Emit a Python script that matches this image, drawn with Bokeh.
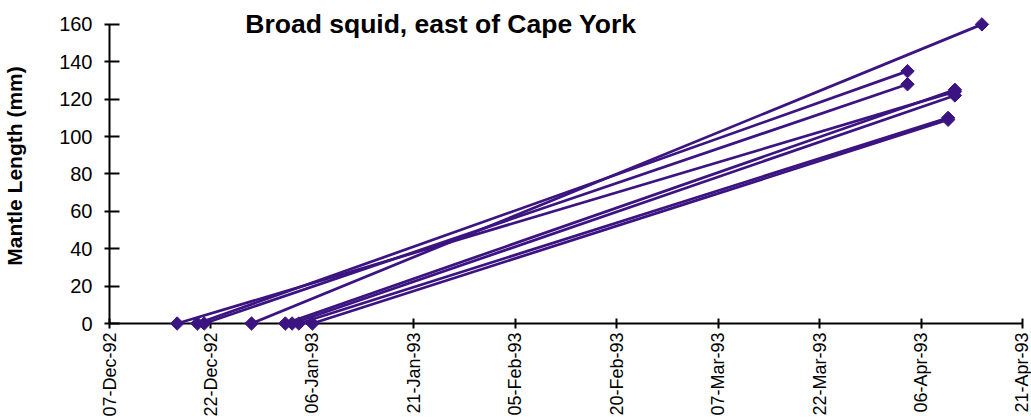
import math
import pandas as pd
from bokeh.plotting import figure
from bokeh.models import (ColumnDataSource, FixedTicker, Label, Range1d,
                          DatetimeTickFormatter)
from bokeh.embed import file_html
from bokeh.resources import INLINE

# Hatch date (mantle length 0) and capture date / mantle length for each squid
hatch_dates = ["1992-12-17", "1992-12-20", "1992-12-21", "1992-12-28",
               "1993-01-02", "1993-01-03", "1993-01-04", "1993-01-06"]
hatch_length = [0, 0, 0, 0, 0, 0, 0, 0]
capture_dates = ["1993-04-11", "1993-04-04", "1993-04-04", "1993-04-15",
                 "1993-04-11", "1993-04-11", "1993-04-10", "1993-04-10"]
mantle_length = [124, 135, 128, 160, 125, 122, 110, 109]

tick_dates = ["1992-12-07", "1992-12-22", "1993-01-06", "1993-01-21",
              "1993-02-05", "1993-02-20", "1993-03-07", "1993-03-22",
              "1993-04-06", "1993-04-21"]
tick_labels = ["07-Dec-92", "22-Dec-92", "06-Jan-93", "21-Jan-93",
               "05-Feb-93", "20-Feb-93", "07-Mar-93", "22-Mar-93",
               "06-Apr-93", "21-Apr-93"]
y_ticks = [0, 20, 40, 60, 80, 100, 120, 140, 160]


def ms(s):
    return pd.Timestamp(s).value / 1e6


COLOR = "#3C1482"
FONT = "Liberation Sans"

src = ColumnDataSource(dict(
    h=[pd.Timestamp(d) for d in hatch_dates],
    h_len=hatch_length,
    c=[pd.Timestamp(d) for d in capture_dates],
    c_len=mantle_length,
))

tick_ms = [ms(d) for d in tick_dates]

# headroom above the top tick so the title fits inside the frame
p = figure(width=1031, height=419, x_axis_type="datetime",
           x_range=Range1d(tick_ms[0], tick_ms[-1]),
           y_range=Range1d(y_ticks[0], 168.5),
           output_backend="svg", toolbar_location=None,
           min_border_left=108, min_border_right=9,
           min_border_top=8, min_border_bottom=96)

p.outline_line_color = None
p.xgrid.visible = False
p.ygrid.visible = False
p.background_fill_color = "white"
p.border_fill_color = "white"

# growth lines from hatching to capture
p.segment(x0="h", y0="h_len", x1="c", y1="c_len", source=src,
          line_color=COLOR, line_width=2.75, level="overlay")
p.scatter(x="h", y="h_len", source=src, marker="square", angle=math.pi / 4,
          size=9.5, fill_color=COLOR, line_color=COLOR, level="overlay")
p.scatter(x="c", y="c_len", source=src, marker="square", angle=math.pi / 4,
          size=9.5, fill_color=COLOR, line_color=COLOR, level="overlay")

# x axis
xa = p.xaxis[0]
xa.ticker = FixedTicker(ticks=tick_ms)
fmt = "%d-%b-%y"
xa.formatter = DatetimeTickFormatter(days=fmt, months=fmt, years=fmt,
                                     hours=fmt, minutes=fmt, seconds=fmt,
                                     milliseconds=fmt, microseconds=fmt)
xa.major_label_overrides = {t: lab for t, lab in zip(tick_ms, tick_labels)}
xa.major_label_orientation = math.pi / 2
xa.major_label_text_font = FONT
xa.major_label_text_font_size = "18px"
xa.major_label_text_color = "black"
xa.major_label_standoff = 4
xa.major_tick_in = 5
xa.major_tick_out = 5
xa.minor_tick_line_color = None
xa.axis_line_width = 2
xa.major_tick_line_width = 2
xa.axis_line_color = "black"
xa.major_tick_line_color = "black"

# y axis, drawn only between the first and last tick
ya = p.yaxis[0]
ya.ticker = FixedTicker(ticks=y_ticks)
ya.bounds = (y_ticks[0], y_ticks[-1])
ya.major_label_text_font = FONT
ya.major_label_text_font_size = "20px"
ya.major_label_text_color = "black"
ya.major_label_standoff = 12
ya.major_tick_in = 10
ya.major_tick_out = 5
ya.minor_tick_line_color = None
ya.axis_line_width = 2
ya.major_tick_line_width = 2
ya.axis_line_color = "black"
ya.major_tick_line_color = "black"
ya.axis_label = "Mantle Length (mm)"
ya.axis_label_text_font = FONT
ya.axis_label_text_font_size = "21px"
ya.axis_label_text_font_style = "bold"
ya.axis_label_text_color = "black"
ya.axis_label_standoff = 30

# chart title inside the plot area
p.add_layout(Label(x=ms("1993-01-25"), y=160.3,
                   text="Broad squid, east of Cape York",
                   text_font=FONT, text_font_size="26.5px",
                   text_font_style="bold", text_color="black",
                   text_align="center", text_baseline="alphabetic"))

open("out.html", "w").write(file_html(p, INLINE))
